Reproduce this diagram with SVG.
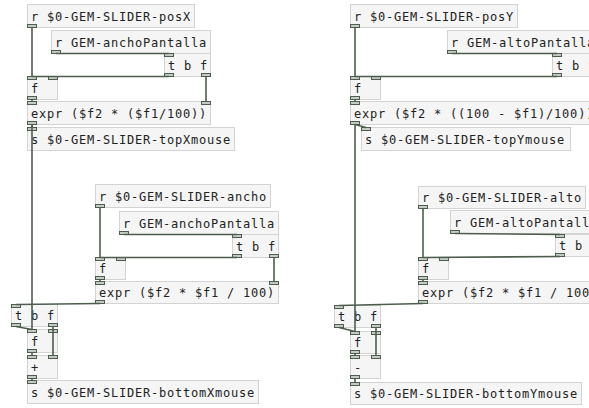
<svg xmlns="http://www.w3.org/2000/svg" xmlns:xlink="http://www.w3.org/1999/xlink" width="589" height="408" viewBox="0 0 589 408">
<style>
.b{fill:#f5f5f5;stroke:#d3d3d3;stroke-width:1}
.t{font-family:"DejaVu Sans Mono",monospace;font-size:12px;letter-spacing:0.78px;fill:#222}
.io{fill:#c3cbc3;stroke:#4d5d4d;stroke-width:1}
.c{stroke:#4d5d4d;stroke-width:1.6;fill:none}
</style>
<defs><rect id="io" class="io" width="9" height="3"/></defs>
<rect width="589" height="408" fill="#ffffff"/>
<!-- LEFT -->
<g id="L1"><rect class="b" x="27.5" y="4.5" width="167" height="23"/><text class="t" x="31" y="20.5">r $0-GEM-SLIDER-posX</text><use href="#io" x="27.5" y="24.5"/></g>
<g id="L2"><rect class="b" x="51.5" y="30.5" width="159" height="23"/><text class="t" x="55" y="46.5">r GEM-anchoPantalla</text><use href="#io" x="51.5" y="50.5"/></g>
<g id="L3"><rect class="b" x="164.5" y="53.5" width="46" height="23"/><text class="t" x="168" y="69.5">t b f</text><use href="#io" x="164.5" y="53.5"/><use href="#io" x="164.5" y="73.5"/><use href="#io" x="201.5" y="73.5"/></g>
<g id="L4"><rect class="b" x="27.5" y="76.5" width="30" height="23"/><text class="t" x="31" y="92.5">f</text><use href="#io" x="27.5" y="76.5"/><use href="#io" x="48.5" y="76.5"/><use href="#io" x="27.5" y="96.5"/></g>
<g id="L5"><rect class="b" x="27.5" y="101.5" width="183" height="23"/><text class="t" x="31" y="117.5">expr ($f2 * ($f1/100))</text><use href="#io" x="27.5" y="101.5"/><use href="#io" x="201.5" y="101.5"/><use href="#io" x="27.5" y="121.5"/></g>
<g id="L6"><rect class="b" x="27.5" y="127.5" width="207" height="23"/><text class="t" x="31" y="143.5">s $0-GEM-SLIDER-topXmouse</text><use href="#io" x="27.5" y="127.5"/></g>
<g id="L7"><rect class="b" x="95.5" y="184.5" width="175" height="23"/><text class="t" x="99" y="200.5">r $0-GEM-SLIDER-ancho</text><use href="#io" x="95.5" y="204.5"/></g>
<g id="L8"><rect class="b" x="119.5" y="211.5" width="159" height="23"/><text class="t" x="123" y="227.5">r GEM-anchoPantalla</text><use href="#io" x="119.5" y="231.5"/></g>
<g id="L9"><rect class="b" x="232.5" y="234.5" width="46" height="23"/><text class="t" x="236" y="250.5">t b f</text><use href="#io" x="232.5" y="234.5"/><use href="#io" x="232.5" y="254.5"/><use href="#io" x="269.5" y="254.5"/></g>
<g id="L10"><rect class="b" x="95.5" y="257.5" width="30" height="22"/><text class="t" x="99" y="273">f</text><use href="#io" x="95.5" y="257.5"/><use href="#io" x="116.5" y="257.5"/><use href="#io" x="95.5" y="276.5"/></g>
<g id="L11"><rect class="b" x="95.5" y="281.5" width="183" height="22"/><text class="t" x="99" y="297">expr ($f2 * $f1 / 100)</text><use href="#io" x="95.5" y="281.5"/><use href="#io" x="269.5" y="281.5"/><use href="#io" x="95.5" y="300.5"/></g>
<g id="L12"><rect class="b" x="11.5" y="304.5" width="46" height="22"/><text class="t" x="15" y="320">t b f</text><use href="#io" x="11.5" y="304.5"/><use href="#io" x="11.5" y="323.5"/><use href="#io" x="48.5" y="323.5"/></g>
<g id="L13"><rect class="b" x="27.5" y="329.5" width="30" height="23"/><text class="t" x="31" y="345.5">f</text><use href="#io" x="27.5" y="329.5"/><use href="#io" x="48.5" y="329.5"/><use href="#io" x="27.5" y="349.5"/></g>
<g id="L14"><rect class="b" x="27.5" y="355.5" width="30" height="23"/><text class="t" x="31" y="371.5">+</text><use href="#io" x="27.5" y="355.5"/><use href="#io" x="48.5" y="355.5"/><use href="#io" x="27.5" y="375.5"/></g>
<g id="L15"><rect class="b" x="27.5" y="380.5" width="231" height="23"/><text class="t" x="31" y="396.5">s $0-GEM-SLIDER-bottomXmouse</text><use href="#io" x="27.5" y="380.5"/></g>
<!-- RIGHT -->
<g id="R1"><rect class="b" x="350.5" y="4.5" width="167" height="23"/><text class="t" x="354" y="20.5">r $0-GEM-SLIDER-posY</text><use href="#io" x="350.5" y="24.5"/></g>
<g id="R2"><rect class="b" x="447.5" y="30.5" width="151" height="23"/><text class="t" x="451" y="46.5">r GEM-altoPantalla</text><use href="#io" x="447.5" y="50.5"/></g>
<g id="R3"><rect class="b" x="552.5" y="53.5" width="46" height="23"/><text class="t" x="556" y="69.5">t b f</text><use href="#io" x="552.5" y="53.5"/><use href="#io" x="552.5" y="73.5"/><use href="#io" x="589.5" y="73.5"/></g>
<g id="R4"><rect class="b" x="350.5" y="76.5" width="30" height="23"/><text class="t" x="354" y="92.5">f</text><use href="#io" x="350.5" y="76.5"/><use href="#io" x="371.5" y="76.5"/><use href="#io" x="350.5" y="96.5"/></g>
<g id="R5"><rect class="b" x="350.5" y="101.5" width="255" height="23"/><text class="t" x="354" y="117.5">expr ($f2 * ((100 - $f1)/100))</text><use href="#io" x="350.5" y="101.5"/><use href="#io" x="350.5" y="121.5"/></g>
<g id="R6"><rect class="b" x="361.5" y="127.5" width="209" height="23"/><text class="t" x="365" y="143.5">s $0-GEM-SLIDER-topYmouse</text><use href="#io" x="361.5" y="127.5"/></g>
<g id="R7"><rect class="b" x="418.5" y="186.5" width="167" height="22"/><text class="t" x="422" y="202">r $0-GEM-SLIDER-alto</text><use href="#io" x="418.5" y="205.5"/></g>
<g id="R8"><rect class="b" x="450.5" y="210.5" width="151" height="23"/><text class="t" x="454" y="226.5">r GEM-altoPantalla</text><use href="#io" x="450.5" y="230.5"/></g>
<g id="R9"><rect class="b" x="555.5" y="234.5" width="46" height="22"/><text class="t" x="559" y="250">t b f</text><use href="#io" x="555.5" y="234.5"/><use href="#io" x="555.5" y="253.5"/></g>
<g id="R10"><rect class="b" x="418.5" y="257.5" width="30" height="22"/><text class="t" x="422" y="273">f</text><use href="#io" x="418.5" y="257.5"/><use href="#io" x="439.5" y="257.5"/><use href="#io" x="418.5" y="276.5"/></g>
<g id="R11"><rect class="b" x="418.5" y="281.5" width="183" height="22"/><text class="t" x="422" y="297">expr ($f2 * $f1 / 100)</text><use href="#io" x="418.5" y="281.5"/><use href="#io" x="418.5" y="300.5"/></g>
<g id="R12"><rect class="b" x="334.5" y="305.5" width="46" height="22"/><text class="t" x="338" y="321">t b f</text><use href="#io" x="334.5" y="305.5"/><use href="#io" x="334.5" y="324.5"/><use href="#io" x="371.5" y="324.5"/></g>
<g id="R13"><rect class="b" x="350.5" y="331.5" width="30" height="22"/><text class="t" x="354" y="347">f</text><use href="#io" x="350.5" y="331.5"/><use href="#io" x="371.5" y="331.5"/><use href="#io" x="350.5" y="350.5"/></g>
<g id="R14"><rect class="b" x="350.5" y="355.5" width="30" height="23"/><text class="t" x="354" y="371.5">-</text><use href="#io" x="350.5" y="355.5"/><use href="#io" x="371.5" y="355.5"/><use href="#io" x="350.5" y="375.5"/></g>
<g id="R15"><rect class="b" x="350.5" y="382.5" width="231" height="22"/><text class="t" x="354" y="398">s $0-GEM-SLIDER-bottomYmouse</text><use href="#io" x="350.5" y="382.5"/></g>
<g id="connectors" class="c">
<path d="M32 27.5V76.5"/>
<path d="M56 53.5L169 53.5"/>
<path d="M169 76.5L32 76.5"/>
<path d="M206 76.5V101.5"/>
<path d="M32 99.5V101.5"/>
<path d="M32 124.5V127.5"/>
<path d="M32 124.5V329.5"/>
<path d="M100 207.5V257.5"/>
<path d="M124 234.5L237 234.5"/>
<path d="M237 257.5L100 257.5"/>
<path d="M274 257.5V281.5"/>
<path d="M100 279.5V281.5"/>
<path d="M100 303.5L16 304.5"/>
<path d="M16 326.5L32 329.5"/>
<path d="M53 326.5V355.5"/>
<path d="M32 352.5V355.5"/>
<path d="M32 378.5V380.5"/>
<path d="M355 27.5V76.5"/>
<path d="M452 53.5L557 53.5"/>
<path d="M557 76.5L355 76.5"/>
<path d="M355 99.5V101.5"/>
<path d="M355 124.5L366 127.5"/>
<path d="M355 124.5V331.5"/>
<path d="M423 208.5V257.5"/>
<path d="M455 233.5L560 234.5"/>
<path d="M560 256.5L423 257.5"/>
<path d="M423 279.5V281.5"/>
<path d="M423 303.5L339 305.5"/>
<path d="M339 327.5L355 331.5"/>
<path d="M376 327.5V355.5"/>
<path d="M355 353.5V355.5"/>
<path d="M355 378.5V382.5"/>
</g>
</svg>
